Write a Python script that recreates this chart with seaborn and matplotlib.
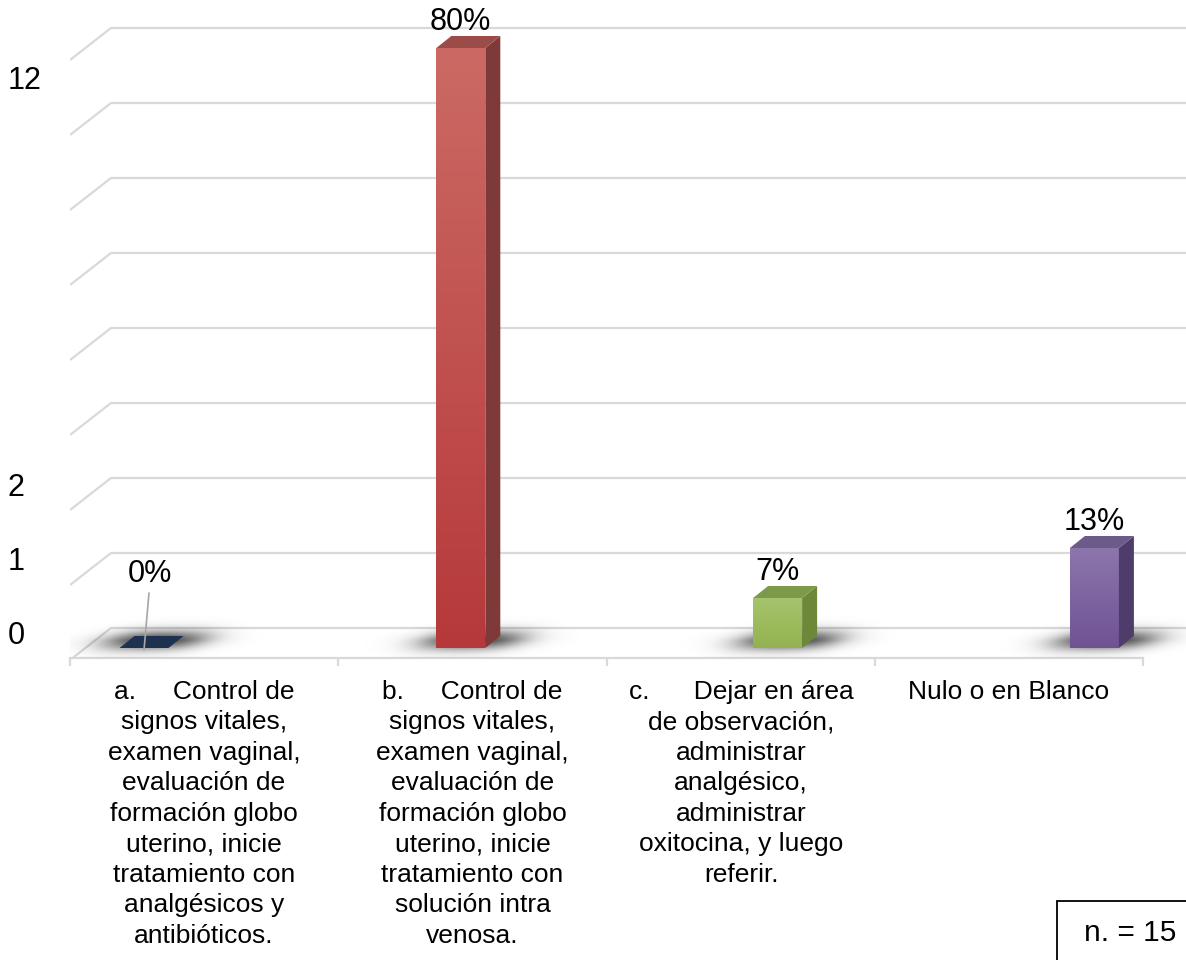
import numpy as np
import pandas as pd
import matplotlib
matplotlib.use("Agg")
import matplotlib.pyplot as plt
import seaborn as sns
from matplotlib.patches import Polygon, Rectangle

# ---------------- data ----------------
categories = ["a", "b", "c", "Nulo"]
counts = [0, 12, 1, 2]
n_total = 15
tick_labels = [
    "a.     Control de\nsignos vitales,\nexamen vaginal,\nevaluación de\nformación globo\nuterino, inicie\ntratamiento con\nanalgésicos y\nantibióticos.",
    "b.     Control de\nsignos vitales,\nexamen vaginal,\nevaluación de\nformación globo\nuterino, inicie\ntratamiento con\nsolución intra\nvenosa.",
    "c.      Dejar en área\nde observación,\nadministrar\nanalgésico,\nadministrar\noxitocina, y luego\nreferir.",
    "Nulo o en Blanco",
]
y_tick_labels = ["0", "1", "2", "12"]
sample_note = "n. = 15"

# ---------------- style ----------------
front_top = ["#1E3250", "#CB6A64", "#A6C46C", "#8C76AC"]
front_bot = ["#1E3250", "#B6393A", "#93B24F", "#6F5294"]
side_cols = ["#16263D", "#7E3A38", "#6C8838", "#4E3C6A"]
top_cols = ["#1E3250", "#9B4C49", "#7D9A4B", "#6C5A8A"]

sns.set_theme(style="white")
plt.rcParams["font.family"] = ["Liberation Sans", "DejaVu Sans"]
plt.rcParams["text.color"] = "black"
plt.rcParams["xtick.color"] = "black"
plt.rcParams["ytick.color"] = "black"

W, H = 1186, 960
fig = plt.figure(figsize=(W / 100, H / 100), dpi=100)
fig.patch.set_facecolor("white")

# pixel -> data helpers (layout only)
X0, SX = 144.0, 316.8
Y0, SY = 648.0, 50.0
def px(p):
    return (p - X0) / SX
def py(p):
    return (Y0 - p) / SY

floor_px = 657.6
ax = fig.add_axes([70 / W, (H - floor_px) / H, (W - 70) / W, floor_px / H])

df = pd.DataFrame({"cat": categories, "count": counts})
sns.barplot(data=df, x="cat", y="count", hue="cat", palette=front_bot,
            width=49 / SX, saturation=1, legend=False, ax=ax, zorder=3,
            linewidth=0)

GRID = "#D9D9D9"
# back wall / side wall gridlines
for k in range(9):
    p = 628 - 75 * k
    ax.plot([px(70), px(111), px(W + 20)], [py(p + 32), py(p), py(p)],
            color=GRID, lw=1.6, zorder=0, solid_capstyle="butt")

dx, dy = 15 / SX, 12 / SY

def sig(d, a, s):
    return 1.0 / (1.0 + np.exp((d - a) / s))

bars = sorted(ax.patches, key=lambda p: p.get_x())
for i, p in enumerate(bars):
    x0, w, h = p.get_x(), p.get_width(), p.get_height()
    cx = x0 + w / 2
    cxp = X0 + cx * SX
    # soft floor shadow
    xs = np.arange(cxp - 100, cxp + 120)
    ys = np.arange(610, 666)
    XX, YY = np.meshgrid(xs, ys)
    v = YY - 640.0
    u = XX - cxp - 12 + 1.3 * v
    alpha = 0.85 * sig(np.abs(u), 44, 12) * sig(np.abs(v), 7, 3.5)
    rgba = np.zeros(XX.shape + (4,))
    rgba[..., 3] = alpha
    ax.imshow(rgba, extent=[px(xs[0]), px(xs[-1]), py(ys[-1]), py(ys[0])],
              origin="upper", aspect="auto", zorder=1, interpolation="bilinear")
    if h > 0:
        # vertical gradient on the front face
        c1 = np.array(matplotlib.colors.to_rgb(front_top[i]))
        c2 = np.array(matplotlib.colors.to_rgb(front_bot[i]))
        t = np.linspace(0, 1, 200)[:, None, None]
        grad = c1 * (1 - t) + c2 * t
        im = ax.imshow(grad, extent=[x0, x0 + w, 0, h], origin="upper",
                       aspect="auto", zorder=3.1)
        im.set_clip_path(p)
        ax.add_patch(Polygon([(x0 + w, 0), (x0 + w + dx, dy), (x0 + w + dx, h + dy), (x0 + w, h)],
                             closed=True, fc=side_cols[i], ec="none", zorder=3.2))
    ax.add_patch(Polygon([(x0, h), (x0 + w, h), (x0 + w + dx, h + dy), (x0 + dx, h + dy)],
                         closed=True, fc=top_cols[i], ec="none", zorder=3.2))
    pct = f"{round(100 * counts[i] / n_total)}%"
    if h > 0:
        ax.text(cx, h + 18 / SY, pct, ha="center", va="baseline", fontsize=22,
                color="black", zorder=5)
    else:
        ax.text(px(149.5), py(582), pct, ha="center", va="baseline", fontsize=22,
                color="black", zorder=5)
        ax.plot([px(149), px(144)], [py(593), py(650)], color="#A6A6A6", lw=1.2, zorder=4)

ax.set_xlim(px(70), px(W))
ax.set_ylim(py(floor_px), py(0))

for s in ["top", "right", "left"]:
    ax.spines[s].set_visible(False)
ax.spines["bottom"].set_color(GRID)
ax.spines["bottom"].set_linewidth(1.6)
ax.spines["bottom"].set_bounds(px(70), px(1143))
ax.spines["bottom"].set_zorder(0.5)

div_pix = [70, 338, 607, 875, 1143]
lab_pix = [(div_pix[j] + div_pix[j + 1]) / 2 for j in range(4)]
ax.set_xticks([px(d) for d in div_pix])
ax.set_xticklabels([""] * len(div_pix))
ax.set_xticks([px(l) for l in lab_pix], minor=True)
ax.set_xticklabels(tick_labels, minor=True, fontsize=19, linespacing=1.34)
ax.tick_params(axis="x", which="major", length=6, width=1.6, color=GRID, direction="out", bottom=True)
ax.tick_params(axis="x", which="minor", length=0, pad=16, labelcolor="black")
ax.set_xlabel("")
ax.set_ylabel("")

ax.set_yticks([py(632), py(559), py(485), py(77.5)])
ax.set_yticklabels(y_tick_labels, fontsize=22)
ax.tick_params(axis="y", length=0, pad=45, labelcolor="black")
for lab in ax.get_yticklabels():
    lab.set_horizontalalignment("left")
ax.grid(False)

# sample-size box
fig.add_artist(Rectangle((1057 / W, -0.2), 0.5, (H - 901) / H + 0.2,
                         transform=fig.transFigure, fill=False, ec="black", lw=1.3))
fig.text(1084 / W, (H - 941) / H, sample_note, fontsize=21.5, va="baseline", ha="left")

fig.savefig("out.png", dpi=100)
